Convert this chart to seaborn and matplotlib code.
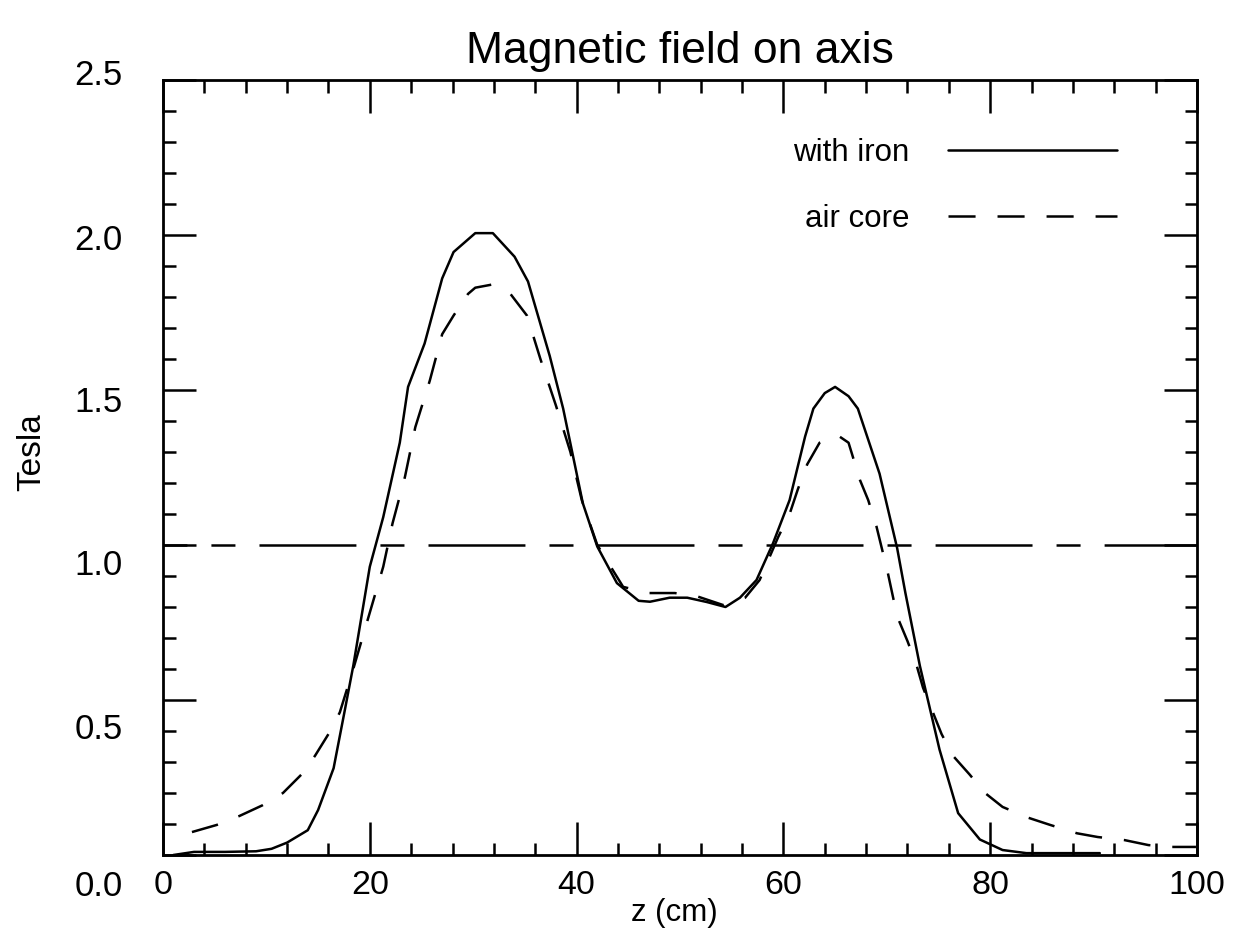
import matplotlib
matplotlib.use("Agg")  # no display
import matplotlib.pyplot as plt
import matplotlib.transforms as mtransforms
from matplotlib.ticker import MultipleLocator
import seaborn as sns

# field on axis
iron_z = [1, 3, 6, 9, 10.5, 12, 14, 15, 16.5, 17.6, 18.4, 20, 21.3, 22.9, 23.7, 25.3,
          27, 28.1, 30.2, 31.9, 34, 35.3, 37.4, 38.7, 40.6, 42, 43.9, 46, 47.1, 49,
          50.7, 52.6, 54.4, 55.8, 57.4, 59, 60.6, 62.1, 62.9, 64, 65, 66.3, 67.2,
          69.3, 71, 71.8, 73.2, 75.1, 76.9, 79, 81.2, 83.5, 87, 90.6]
iron_b = [0.0, 0.01, 0.01, 0.012, 0.02, 0.04, 0.08, 0.145, 0.28, 0.47, 0.61, 0.93,
          1.09, 1.33, 1.51, 1.65, 1.86, 1.945, 2.006, 2.006, 1.93, 1.85, 1.61, 1.44,
          1.135, 0.995, 0.877, 0.82, 0.817, 0.83, 0.83, 0.816, 0.80, 0.83, 0.887,
          1.006, 1.145, 1.35, 1.44, 1.49, 1.51, 1.48, 1.44, 1.23, 0.99, 0.845, 0.61,
          0.34, 0.135, 0.05, 0.016, 0.006, 0.006, 0.006]

air_z = [2.8, 5.2, 7.4, 9.6, 11.6, 13.4, 14.7, 16.0, 17.1, 18.4, 21.3, 22.2, 23.4,
         24.4, 25.8, 27.0, 28.1, 29.5, 30.2, 31.8, 33.6, 35.2, 36.5, 38.0, 39.4,
         40.5, 42.0, 44.5, 46.9, 49.5, 51.6, 54.2, 56.3, 57.7, 59.5, 60.6, 61.4,
         62.3, 63.5, 65.2, 66.3, 67.4, 68.2, 69.0, 70.1, 71.0, 72.0, 72.9, 73.5,
         75.3, 76.4, 78.0, 79.5, 81.2, 83.7, 85.8, 88.4, 90.4, 93.0, 95.3, 97.6, 99.9]
air_b = [0.074, 0.097, 0.126, 0.16, 0.20, 0.26, 0.32, 0.39, 0.46, 0.60, 0.93, 1.07,
         1.22, 1.38, 1.53, 1.68, 1.74, 1.81, 1.83, 1.84, 1.81, 1.74, 1.60, 1.45,
         1.30, 1.145, 1.00, 0.865, 0.845, 0.845, 0.835, 0.806, 0.83, 0.887, 1.026,
         1.10, 1.18, 1.26, 1.33, 1.355, 1.33, 1.21, 1.145, 1.06, 0.91, 0.77, 0.69,
         0.61, 0.54, 0.39, 0.32, 0.26, 0.20, 0.155, 0.12, 0.097, 0.07, 0.058, 0.048,
         0.032, 0.026, 0.026]

reference_level = 1.0
x_ticks = [0, 20, 40, 60, 80, 100]
y_ticks = [0.0, 0.5, 1.0, 1.5, 2.0, 2.5]

sns.set_theme(style="ticks")
plt.rcParams["font.family"] = ["Liberation Sans", "DejaVu Sans"]
plt.rcParams["lines.scale_dashes"] = False
plt.rcParams["text.color"] = "black"

fig = plt.figure(figsize=(12.35, 9.36), dpi=100)
ax = fig.add_axes([163 / 1235, 81 / 936, 1034 / 1235, 775 / 936])

LW = 1.8
sns.lineplot(x=iron_z, y=iron_b, ax=ax, color="black", lw=LW, sort=False,
             estimator=None, label="with iron")
sns.lineplot(x=air_z, y=air_b, ax=ax, color="black", lw=LW, sort=False,
             estimator=None, label="air core", linestyle=(0, (19.5, 15.8)))
ax.axhline(reference_level, color="black", lw=LW,
           linestyle=(52.6, (69.8, 17.3, 17.3, 17.3)))

ax.set_xlim(0, 100)
ax.set_ylim(0, 2.5)
ax.set_xticks(x_ticks)
ax.set_yticks(y_ticks)
ax.xaxis.set_minor_locator(MultipleLocator(4))
ax.yaxis.set_minor_locator(MultipleLocator(0.1))

for spine in ax.spines.values():
    spine.set_visible(True)
    spine.set_linewidth(2)
    spine.set_color("black")

ax.tick_params(which="both", direction="in", top=True, right=True,
               width=1.8, color="black", labelcolor="black")
ax.tick_params(which="major", length=24)
ax.tick_params(which="minor", length=9)
ax.tick_params(axis="x", which="major", pad=11, labelsize=24.5)
ax.tick_params(axis="y", which="major", pad=29, labelsize=25)

# the y labels in the original drift downward from their ticks
label_shift_px = {0.0: 28, 0.5: 26, 1.0: 17, 1.5: 9, 2.0: 2, 2.5: -8}
for tick, val in zip(ax.yaxis.get_major_ticks(), y_ticks):
    shift = mtransforms.ScaledTranslation(0, -label_shift_px[val] / 100, fig.dpi_scale_trans)
    tick.label1.set_transform(tick.label1.get_transform() + shift)

ax.set_title("Magnetic field on axis", fontsize=32, pad=12, color="black")
ax.set_xlabel("z (cm)", fontsize=22.5, color="black")
ax.xaxis.set_label_coords(0.495, -0.055)
ax.set_ylabel("Tesla", fontsize=24, color="black")
ax.yaxis.set_label_coords(-0.112, 0.52)

leg = ax.legend(loc="center right", bbox_to_anchor=(0.9226, 0.863), frameon=False,
                markerfirst=False, handlelength=5.4, handletextpad=1.25,
                labelspacing=1.15, fontsize=22.5, borderpad=0, borderaxespad=0)
for txt in leg.get_texts():
    txt.set_color("black")

fig.savefig("out.png", dpi=100)
plt.close(fig)
